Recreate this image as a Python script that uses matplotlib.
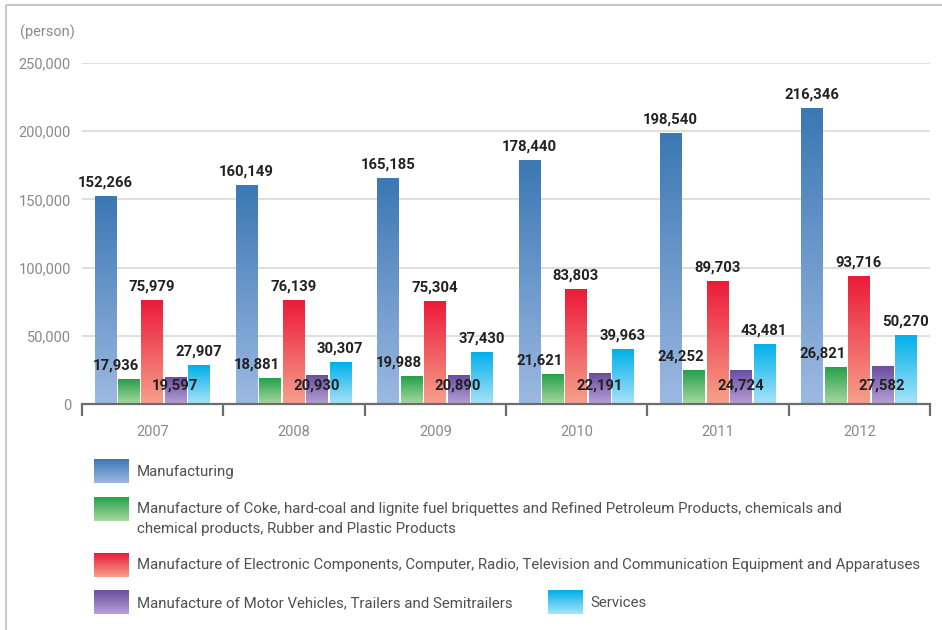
import numpy as np
import matplotlib
matplotlib.use('Agg')
import matplotlib.pyplot as plt
from matplotlib.colors import to_rgb

plt.rcParams['font.family'] = ['Roboto', 'DejaVu Sans']

years = ['2007', '2008', '2009', '2010', '2011', '2012']
manufacturing = [152266, 160149, 165185, 178440, 198540, 216346]
coke_chem = [17936, 18881, 19988, 21621, 24252, 26821]
electronics = [75979, 76139, 75304, 83803, 89703, 93716]
motor = [19597, 20930, 20890, 22191, 24724, 27582]
services = [27907, 30307, 37430, 39963, 43481, 50270]

series_names = [
    'Manufacturing',
    'Manufacture of Coke, hard-coal and lignite fuel briquettes and Refined Petroleum Products, chemicals and\n'
    'chemical products, Rubber and Plastic Products',
    'Manufacture of Electronic Components, Computer, Radio, Television and Communication Equipment and Apparatuses',
    'Manufacture of Motor Vehicles, Trailers and Semitrailers',
    'Services',
]
series_values = [manufacturing, coke_chem, electronics, motor, services]

# top / bottom colour of each vertical gradient
gradients = [
    ('#3c78b4', '#9cb9e2'),
    ('#27a04a', '#a6d9a0'),
    ('#ec1b3a', '#f6a08a'),
    ('#6a4ea0', '#b6a0d6'),
    ('#00b0ea', '#a8e3f8'),
]

GRID = '#dcdcdc'
AXIS = '#6d6d6d'
TICKTXT = '#8a8a8a'
LABEL = '#222222'
LEGTXT = '#505050'


def gradient_img(top, bottom, n=64):
    t = np.linspace(0, 1, n)[:, None, None]
    a = np.array(to_rgb(top))[None, None, :]
    b = np.array(to_rgb(bottom))[None, None, :]
    return a * (1 - t) + b * t


fig = plt.figure(figsize=(9.42, 6.3), dpi=100)
ax = fig.add_axes([82 / 942, 226 / 630, 848 / 942, 341 / 630])

x = np.arange(len(years))
width = 0.149
step = 0.166

for i, (vals, (top, bot)) in enumerate(zip(series_values, gradients)):
    pos = x + (i - 2) * step - 0.005
    bars = ax.bar(pos, vals, width, color='none', edgecolor='none', zorder=3)
    img = gradient_img(top, bot)
    for b, v in zip(bars, vals):
        x0 = b.get_x()
        x1 = x0 + b.get_width()
        ax.imshow(img, extent=(x0, x1, 0, b.get_height()), aspect='auto',
                  interpolation='bilinear', zorder=3)
        txt = f'{v:,}'
        kw = dict(fontsize=10.7, fontweight='bold', color=LABEL, zorder=5)
        if i == 1:
            # green labels sit up and to the left, flush with the bar's right edge
            ax.annotate(txt, (x1, v), xytext=(0, 5), textcoords='offset points',
                        ha='right', va='bottom', **kw)
        elif i == 3:
            # purple labels share one low baseline across the years
            ax.text(b.get_x() + b.get_width() / 2, 13200, txt,
                    ha='center', va='center', **kw)
        else:
            ax.annotate(txt, (b.get_x() + b.get_width() / 2, v), xytext=(0, 5),
                        textcoords='offset points', ha='center', va='bottom', **kw)

ax.set_xlim(-0.5, len(years) - 0.5)
ax.set_ylim(0, 250000)

ax.set_yticks(np.arange(0, 250001, 50000))
ax.set_yticklabels([f'{v:,}' for v in range(0, 250001, 50000)])
ax.tick_params(axis='y', length=0, pad=8, labelsize=10.5, labelcolor=TICKTXT)
ax.yaxis.grid(True, color=GRID, linewidth=1.3, zorder=0)
ax.set_axisbelow(True)

ax.set_xticks(np.arange(-0.5, len(years)))
ax.set_xticklabels([])
ax.set_xticks(x, minor=True)
ax.set_xticklabels(years, minor=True)
ax.tick_params(axis='x', which='major', direction='out', length=8.5, width=1.6, color=AXIS)
ax.tick_params(axis='x', which='minor', length=0, pad=15, labelsize=10.5, labelcolor=TICKTXT)

for s in ['top', 'right', 'left']:
    ax.spines[s].set_visible(False)
ax.spines['bottom'].set_color(AXIS)
ax.spines['bottom'].set_linewidth(1.6)
ax.spines['bottom'].set_zorder(6)

# overlay in pixel coordinates for the unit label, legend and frame
ov = fig.add_axes([0, 0, 1, 1], zorder=-1)
ov.set_xlim(0, 942)
ov.set_ylim(630, 0)
ov.axis('off')

ov.text(20, 32, '(person)', fontsize=10.5, color=TICKTXT, va='center', ha='left')

ov.plot([6, 942], [5, 5], color='#c8c8c8', lw=1.5, solid_capstyle='butt')
ov.plot([6, 6], [5, 630], color='#c8c8c8', lw=1.5, solid_capstyle='butt')

legend_rows = [
    (94, 459, 137, [472]),
    (94, 497, 137, [509, 529]),
    (94, 553, 137, [565]),
    (94, 590, 137, [603]),
    (548, 590, 590, [603]),
]
for (px, py, tx, tys), name, (top, bot) in zip(legend_rows, series_names, gradients):
    ov.imshow(gradient_img(top, bot), extent=(px, px + 35, py + 24, py),
              aspect='auto', interpolation='bilinear')
    for ty, line in zip(tys, name.split('\n')):
        ov.text(tx, ty, line, fontsize=10.8, color=LEGTXT, va='center', ha='left')

ov.set_xlim(0, 942)
ov.set_ylim(630, 0)

fig.savefig('out.png', dpi=100, facecolor='white')
